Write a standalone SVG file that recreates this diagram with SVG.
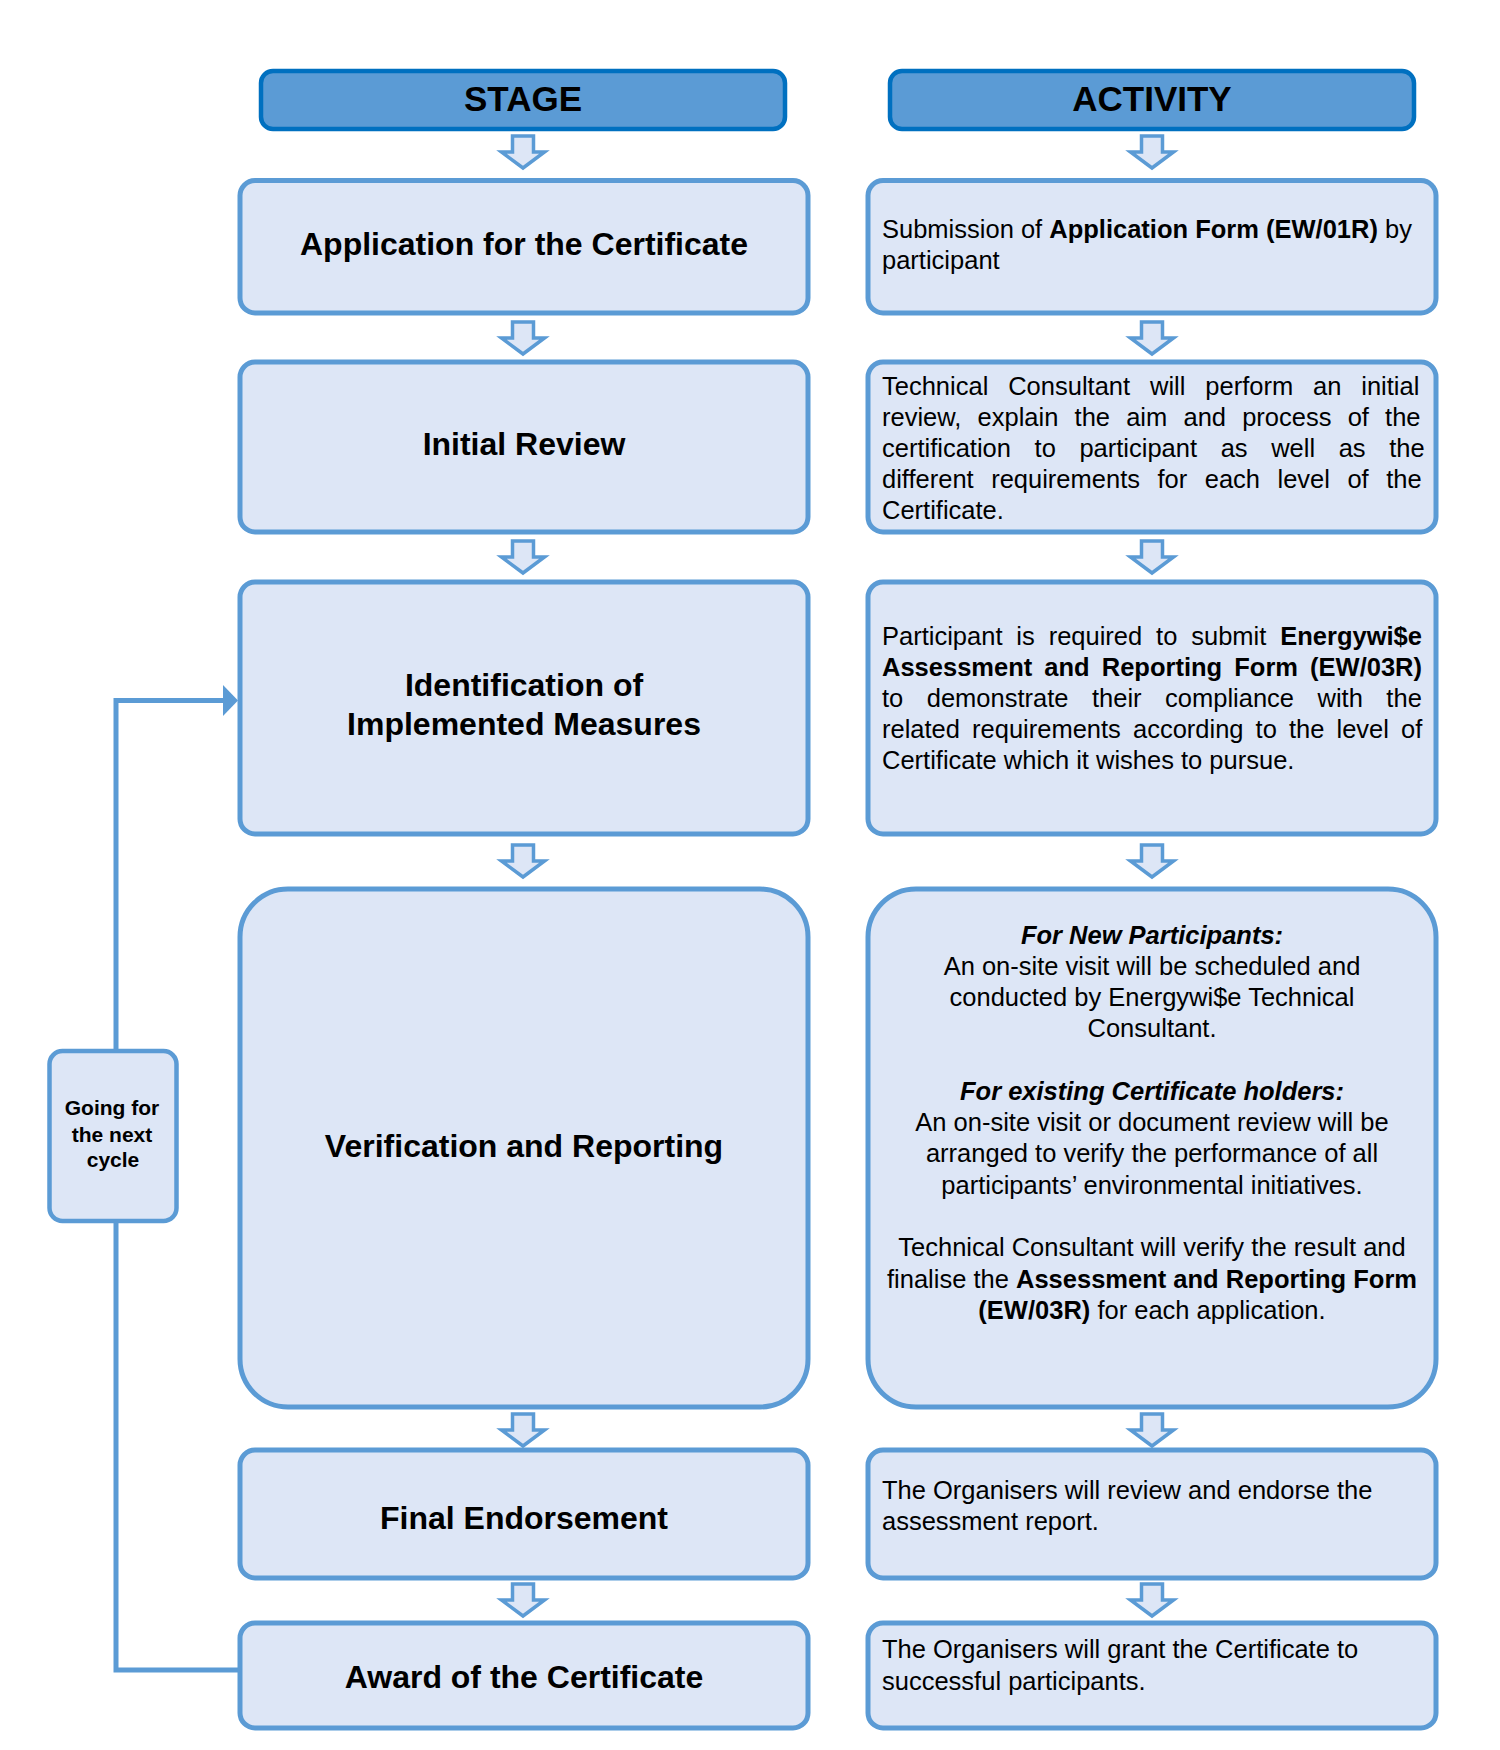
<svg xmlns="http://www.w3.org/2000/svg" width="1500" height="1750" viewBox="0 0 1500 1750">
<style>
.hdr{fill:#5B9BD5;stroke:#0070C0;stroke-width:4.5}
.box{fill:#DDE6F6;stroke:#5B9BD5;stroke-width:5}
.arr{fill:#DDE6F6;stroke:#5B9BD5;stroke-width:3.5;stroke-linejoin:miter}
.ln{fill:none;stroke:#5B9BD5;stroke-width:5}
.ht{font-family:"Liberation Sans",Arial,sans-serif;font-weight:bold;font-size:35px;fill:#000;text-anchor:middle}
.st{font-family:"Liberation Sans",Arial,sans-serif;font-weight:bold;font-size:32px;fill:#000;text-anchor:middle}
.at{font-family:"Liberation Sans",Arial,sans-serif;font-size:25.5px;fill:#000}
.ac{font-family:"Liberation Sans",Arial,sans-serif;font-size:25.5px;fill:#000;text-anchor:middle}
.gt{font-family:"Liberation Sans",Arial,sans-serif;font-weight:bold;font-size:21px;fill:#000;text-anchor:middle}
.b{font-weight:bold}
.bi{font-weight:bold;font-style:italic}
</style>
<defs>
<path id="dn" d="M -10.5 0 H 10.5 V 16 H 21.5 L 0 32 L -21.5 16 H -10.5 Z"/>
</defs>

<g id="connectors">
<use href="#dn" class="arr" x="523" y="136"/>
<use href="#dn" class="arr" x="523" y="322"/>
<use href="#dn" class="arr" x="523" y="541"/>
<use href="#dn" class="arr" x="523" y="845"/>
<use href="#dn" class="arr" x="523" y="1414"/>
<use href="#dn" class="arr" x="523" y="1584"/>
<use href="#dn" class="arr" x="1152" y="136"/>
<use href="#dn" class="arr" x="1152" y="322"/>
<use href="#dn" class="arr" x="1152" y="541"/>
<use href="#dn" class="arr" x="1152" y="845"/>
<use href="#dn" class="arr" x="1152" y="1414"/>
<use href="#dn" class="arr" x="1152" y="1584"/>
<path class="ln" d="M 238 1670 H 116 V 1221"/>
<path class="ln" d="M 116 1051 V 700.5 H 225"/>
<polygon points="223,685 238,700.5 223,716" fill="#5B9BD5"/>
</g>

<g id="stage-header">
<rect class="hdr" x="261" y="71" width="524" height="58" rx="12"/>
<text class="ht" x="523" y="111">STAGE</text>
</g>
<g id="activity-header">
<rect class="hdr" x="890" y="71" width="524" height="58" rx="12"/>
<text class="ht" x="1152" y="111">ACTIVITY</text>
</g>

<g id="stage-application">
<rect class="box" x="240" y="180.5" width="568" height="132.5" rx="15"/>
<text class="st" x="524" y="255">Application for the Certificate</text>
</g>
<g id="activity-application">
<rect class="box" x="868" y="180.5" width="568" height="132.5" rx="15"/>
<text class="at" x="882" y="237.5">Submission of <tspan class="b">Application Form (EW/01R)</tspan> by</text>
<text class="at" x="882" y="268.5">participant</text>
</g>

<g id="stage-initial-review">
<rect class="box" x="240" y="362" width="568" height="170" rx="15"/>
<text class="st" x="524" y="455">Initial Review</text>
</g>
<g id="activity-initial-review">
<rect class="box" x="868" y="362" width="568" height="170" rx="15"/>
<text class="at" x="882" y="395" word-spacing="12.8">Technical Consultant will perform an initial</text>
<text class="at" x="882" y="426" word-spacing="9.1">review, explain the aim and process of the</text>
<text class="at" x="882" y="457" word-spacing="16.5">certification to participant as well as the</text>
<text class="at" x="882" y="488" word-spacing="10.4">different requirements for each level of the</text>
<text class="at" x="882" y="519">Certificate.</text>
</g>

<g id="stage-identification">
<rect class="box" x="240" y="582" width="568" height="252" rx="15"/>
<text class="st" x="524" y="696">Identification of</text>
<text class="st" x="524" y="735">Implemented Measures</text>
</g>
<g id="activity-identification">
<rect class="box" x="868" y="582" width="568" height="252" rx="15"/>
<text class="at" x="882" y="645" word-spacing="6.8">Participant is required to submit <tspan class="b">Energywi$e</tspan></text>
<text class="at b" x="882" y="676" word-spacing="5">Assessment and Reporting Form (EW/03R)</text>
<text class="at" x="882" y="707" word-spacing="16.4">to demonstrate their compliance with the</text>
<text class="at" x="882" y="738" word-spacing="5">related requirements according to the level of</text>
<text class="at" x="882" y="769">Certificate which it wishes to pursue.</text>
</g>

<g id="stage-verification">
<rect class="box" x="240" y="889" width="568" height="518" rx="48"/>
<text class="st" x="524" y="1157">Verification and Reporting</text>
</g>
<g id="activity-verification">
<rect class="box" x="868" y="889" width="568" height="518" rx="48"/>
<text class="ac bi" x="1152" y="943.5">For New Participants:</text>
<text class="ac" x="1152" y="974.5">An on-site visit will be scheduled and</text>
<text class="ac" x="1152" y="1006">conducted by Energywi$e Technical</text>
<text class="ac" x="1152" y="1037">Consultant.</text>
<text class="ac bi" x="1152" y="1100">For existing Certificate holders:</text>
<text class="ac" x="1152" y="1131">An on-site visit or document review will be</text>
<text class="ac" x="1152" y="1162">arranged to verify the performance of all</text>
<text class="ac" x="1152" y="1193.5">participants’ environmental initiatives.</text>
<text class="ac" x="1152" y="1256">Technical Consultant will verify the result and</text>
<text class="ac" x="1152" y="1287.5">finalise the <tspan class="b">Assessment and Reporting Form</tspan></text>
<text class="ac" x="1152" y="1318.5"><tspan class="b">(EW/03R)</tspan> for each application.</text>
</g>

<g id="stage-final-endorsement">
<rect class="box" x="240" y="1450" width="568" height="128" rx="15"/>
<text class="st" x="524" y="1529">Final Endorsement</text>
</g>
<g id="activity-final-endorsement">
<rect class="box" x="868" y="1450" width="568" height="128" rx="15"/>
<text class="at" x="882" y="1498.5">The Organisers will review and endorse the</text>
<text class="at" x="882" y="1530">assessment report.</text>
</g>

<g id="stage-award">
<rect class="box" x="240" y="1623" width="568" height="105" rx="15"/>
<text class="st" x="524" y="1688">Award of the Certificate</text>
</g>
<g id="activity-award">
<rect class="box" x="868" y="1623" width="568" height="105" rx="15"/>
<text class="at" x="882" y="1658">The Organisers will grant the Certificate to</text>
<text class="at" x="882" y="1689.5">successful participants.</text>
</g>

<g id="going-next-cycle">
<rect class="box" x="49.5" y="1051" width="127" height="170" rx="13" style="stroke-width:4.5"/>
<text class="gt" x="112" y="1115">Going for</text>
<text class="gt" x="112" y="1141.5">the next</text>
<text class="gt" x="113" y="1167">cycle</text>
</g>
</svg>
